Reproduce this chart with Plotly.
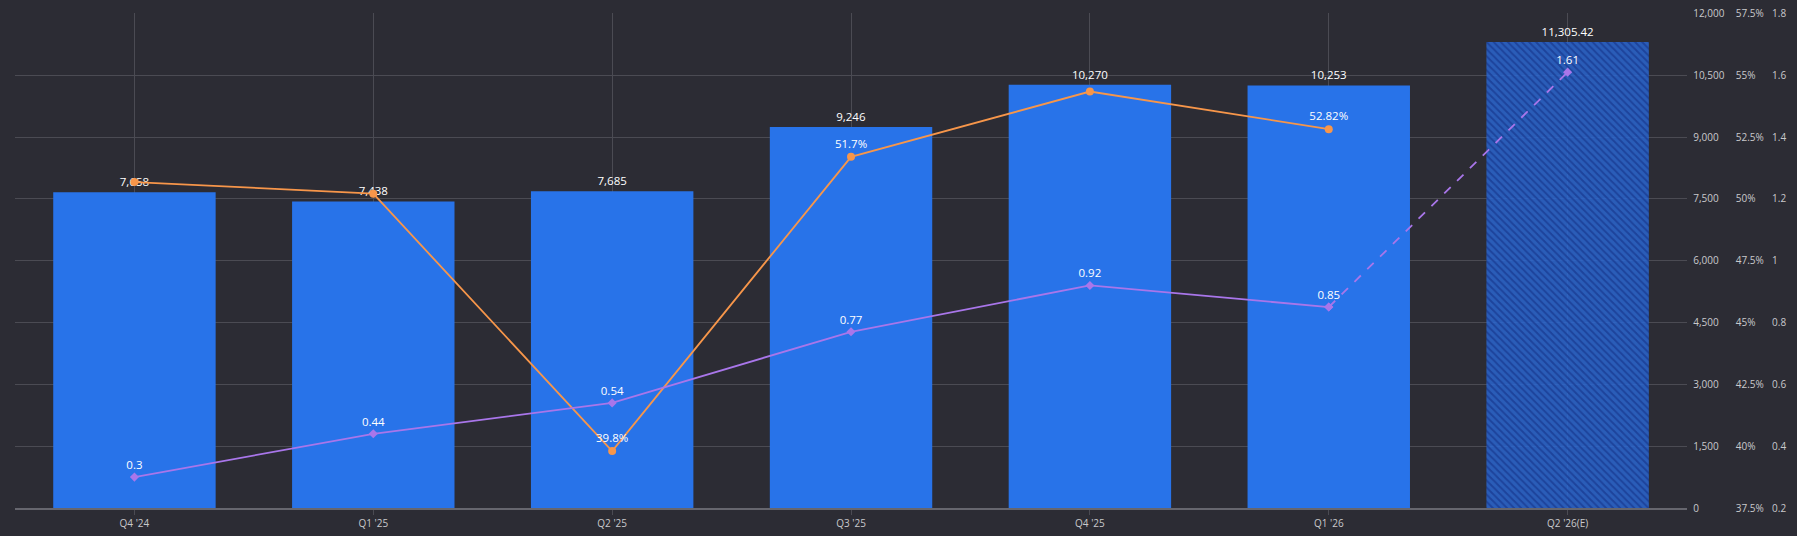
import plotly.graph_objects as go

# Data
quarters = ["Q4 '24", "Q1 '25", "Q2 '25", "Q3 '25", "Q4 '25", "Q1 '26", "Q2 '26(E)"]
revenue = [7658, 7438, 7685, 9246, 10270, 10253, 11305.42]
margin_pct = [50.68, 50.21, 39.8, 51.7, 54.34, 52.82]
margin_labels = ["", "", "39.8%", "51.7%", "", "52.82%"]
eps = [0.3, 0.44, 0.54, 0.77, 0.92, 0.85]
eps_est = [0.85, 1.61]

bg = "#2c2c34"
grid = "#4b4b53"
tick_font = dict(family="Open Sans", size=10, color="#c9c9cc")
label_font = dict(family="Open Sans", size=11.5, color="#ffffff")

n_act = len(margin_pct)
pad = 1.0008  # keep the top gridline just inside the plot


def fmt(v):
    return f"{v:,.2f}" if v % 1 else f"{v:,.0f}"


fig = go.Figure()

# actual quarters
fig.add_trace(go.Bar(
    x=quarters[:n_act], y=revenue[:n_act],
    marker=dict(color="#2873e9", line=dict(width=0)),
    text=[fmt(v) for v in revenue[:n_act]],
    textposition="outside", textfont=label_font, cliponaxis=False,
    width=0.68, hoverinfo="skip",
))

# estimate, hatched
fig.add_trace(go.Bar(
    x=quarters[n_act:], y=revenue[n_act:],
    marker=dict(color="rgba(40,100,210,0.85)", line=dict(width=0),
                pattern=dict(shape="\\", fillmode="replace",
                             bgcolor="rgba(42,104,214,0.82)",
                             fgcolor="rgba(26,62,150,0.85)",
                             size=5, solidity=0.4)),
    text=[fmt(v) for v in revenue[n_act:]],
    textposition="outside", textfont=label_font, cliponaxis=False,
    width=0.68, hoverinfo="skip",
))

fig.add_trace(go.Scatter(
    x=quarters[:n_act], y=margin_pct, yaxis="y2",
    mode="lines+markers+text", text=margin_labels, textposition="top center",
    textfont=label_font,
    line=dict(color="#f7964a", width=1.8),
    marker=dict(color="#f7964a", size=8, symbol="circle"),
    hoverinfo="skip", cliponaxis=False,
))

fig.add_trace(go.Scatter(
    x=quarters[:n_act], y=eps, yaxis="y3",
    mode="lines+markers+text", text=[str(v) for v in eps], textposition="top center",
    textfont=label_font,
    line=dict(color="#a976ea", width=1.8),
    marker=dict(color="#a976ea", size=7, symbol="diamond"),
    hoverinfo="skip", cliponaxis=False,
))

fig.add_trace(go.Scatter(
    x=quarters[-2:], y=eps_est, yaxis="y3",
    mode="lines+markers+text", text=["", str(eps_est[1])], textposition="top center",
    textfont=label_font,
    line=dict(color="#a976ea", width=1.8, dash="dash"),
    marker=dict(color="#a976ea", size=7, symbol="diamond"),
    hoverinfo="skip", cliponaxis=False,
))

fig.update_layout(
    width=1797, height=536,
    margin=dict(l=15, r=10, t=13, b=28, autoexpand=False),
    paper_bgcolor=bg, plot_bgcolor=bg,
    showlegend=False, barmode="overlay",
    xaxis=dict(
        domain=[0, 0.9436], showgrid=True, gridcolor=grid, gridwidth=1,
        showline=True, linecolor="#66666e", linewidth=2,
        ticks="outside", ticklen=5, tickcolor=grid, tickfont=tick_font,
        fixedrange=True, automargin=False,
        categoryorder="array", categoryarray=quarters,
    ),
    yaxis=dict(
        range=[0, 12000 * pad], dtick=1500, tickformat=",", side="right",
        anchor="free", position=0.9465, showgrid=True, gridcolor=grid,
        zeroline=False, tickfont=tick_font, showline=False, ticks="",
        automargin=False,
    ),
    yaxis2=dict(
        range=[37.5, 37.5 + 20 * pad], dtick=2.5, ticksuffix="%", overlaying="y",
        side="right", anchor="free", position=0.9705, showgrid=False,
        zeroline=False, tickfont=tick_font, automargin=False,
    ),
    yaxis3=dict(
        range=[0.2, 0.2 + 1.6 * pad], dtick=0.2, overlaying="y", side="right",
        anchor="free", position=0.991, showgrid=False, zeroline=False,
        tickfont=tick_font, automargin=False,
    ),
)

fig.write_html(
    "out.html",
    config={"displayModeBar": False},
    post_script="document.body.style.margin='0';"
                "document.body.style.background='" + bg + "';",
)
